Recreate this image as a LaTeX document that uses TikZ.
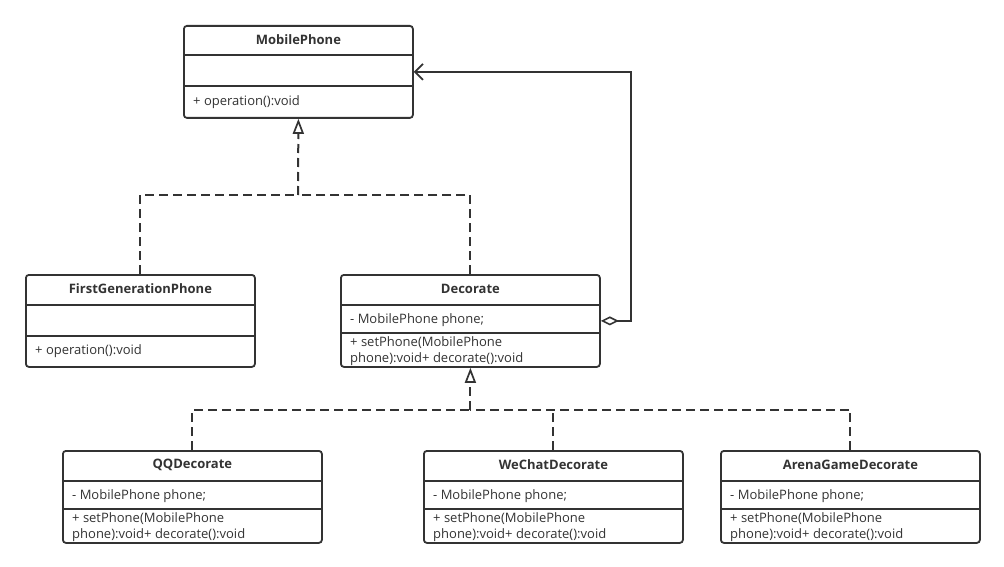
\documentclass[tikz,border=0pt]{standalone}
\usepackage{fontspec}
\setmainfont{Open Sans}
\usetikzlibrary{arrows.meta,calc}

\definecolor{umlline}{HTML}{333333}

\tikzset{
  cls/.style={draw=umlline, line width=1.8pt, rounded corners=3pt, fill=white,
    anchor=north west, inner sep=0pt},
  sep/.style={draw=umlline, line width=1.5pt},
  title/.style={font=\fontsize{13}{14}\selectfont\bfseries, text=umlline, inner sep=0pt},
  member/.style={font=\fontsize{13}{16}\selectfont, text=umlline, inner sep=0pt,
    anchor=west, align=left},
  dashline/.style={draw=umlline, line width=2pt, dash pattern=on 9pt off 5pt},
  realize/.style={dashline, -{Triangle[open, length=15pt, width=11pt, line width=1.7pt]}},
  agg/.style={draw=umlline, line width=1.8pt,
    {Diamond[open, length=18pt, width=9pt, line width=1.6pt]}-{Straight Barb[length=8pt, width=16pt, line width=1.7pt]}}
}

\begin{document}
\begin{tikzpicture}[x=1pt,y=-1pt]
  \useasboundingbox (0,0) rectangle (1004,567);

  % interface
  \node [cls, minimum width=229pt, minimum height=92pt] (mobile) at (183,25) {};
  \draw [sep] ($(mobile.north west)+(0,30)$) -- ++(229,0);
  \draw [sep] ($(mobile.north west)+(0,61)$) -- ++(229,0);
  \node [title] (mobiletitle) at ($(mobile.north)+(0,15)$) {MobilePhone};
  \node [member] (mobileop) at ($(mobile.north west)+(10,77)$) {+ operation():void};

  % concrete phone
  \node [cls, minimum width=229pt, minimum height=92pt] (firstgen) at (25,274) {};
  \draw [sep] ($(firstgen.north west)+(0,31)$) -- ++(229,0);
  \draw [sep] ($(firstgen.north west)+(0,62)$) -- ++(229,0);
  \node [title] (firstgentitle) at ($(firstgen.north)+(0,15)$) {FirstGenerationPhone};
  \node [member] (firstgenop) at ($(firstgen.north west)+(10,77)$) {+ operation():void};

  % decorator
  \node [cls, minimum width=259pt, minimum height=92pt] (decorate) at (340,274) {};
  \draw [sep] ($(decorate.north west)+(0,31)$) -- ++(259,0);
  \draw [sep] ($(decorate.north west)+(0,59)$) -- ++(259,0);
  \node [title] (decoratetitle) at ($(decorate.north)+(0,15)$) {Decorate};
  \node [member] (decorateattr) at ($(decorate.north west)+(10,46)$) {- MobilePhone phone;};
  \node [member] (decorateop) at ($(decorate.north west)+(10,77)$)
    {+ setPhone(MobilePhone\\phone):void+ decorate():void};

  % concrete decorators
  \foreach \name / \x / \txt in {qq/62/QQDecorate, wechat/423/WeChatDecorate,
      arena/720/ArenaGameDecorate} {
    \node [cls, minimum width=259pt, minimum height=92pt] (\name) at (\x,450) {};
    \draw [sep] ($(\name.north west)+(0,31)$) -- ++(259,0);
    \draw [sep] ($(\name.north west)+(0,59)$) -- ++(259,0);
    \node [title] (\name title) at ($(\name.north)+(0,15)$) {\txt};
    \node [member] (\name attr) at ($(\name.north west)+(10,46)$) {- MobilePhone phone;};
    \node [member] (\name op) at ($(\name.north west)+(10,77)$)
      {+ setPhone(MobilePhone\\phone):void+ decorate():void};
  }

  % realization
  \coordinate (top) at (298,195);
  \draw [dashline] (firstgen.north) |- (top);
  \draw [dashline] (decorate.north) |- (top);
  \draw [realize] (top) -- (mobile.south);

  \coordinate (bottom) at ($(decorate.south)+(0,42)$);
  \draw [dashline] (qq.north) |- (bottom);
  \draw [dashline] (arena.north) |- (bottom);
  \draw [dashline] (wechat.north) -- (wechat.north |- bottom);
  \draw [realize] (bottom) -- (decorate.south);

  % aggregation
  \draw [agg] (decorate.east) -- ++(30,0) |- (mobile.east);
\end{tikzpicture}
\end{document}
